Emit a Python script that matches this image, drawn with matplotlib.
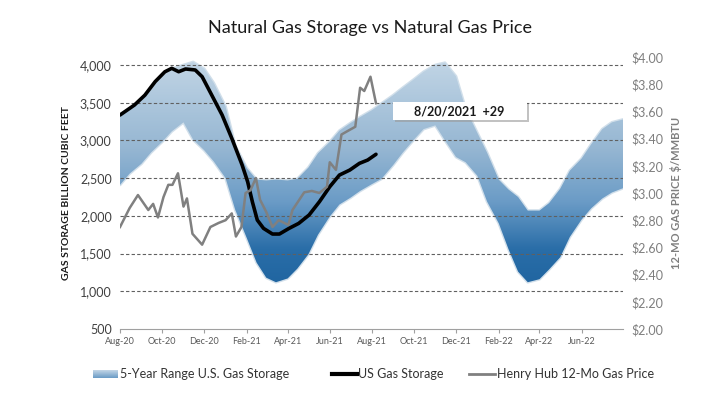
import numpy as np
import pandas as pd
import matplotlib
matplotlib.use("Agg")
import matplotlib.pyplot as plt
import matplotlib.dates as mdates
from matplotlib.colors import LinearSegmentedColormap
from matplotlib.patches import PathPatch, Rectangle
from matplotlib.lines import Line2D

plt.rcParams['font.family'] = ['Lato', 'DejaVu Sans']

# 5-year range of storage (Bcf), semi-monthly from Aug-20 to Aug-22
range_upper = [3330, 3420, 3540, 3700, 3850, 3950, 4000, 4040, 3950, 3760, 3450, 2930,
               2630, 2480, 2470, 2480, 2470, 2490, 2640, 2830, 2980, 3130, 3230, 3310,
               3400, 3490, 3600, 3700, 3810, 3910, 4000, 4030, 3850, 3420, 3100, 2840,
               2480, 2350, 2250, 2070, 2070, 2170, 2360, 2600, 2760, 2950, 3150, 3240, 3280]
range_lower = [2410, 2560, 2690, 2840, 2980, 3120, 3240, 3010, 2870, 2720, 2500, 2080,
               1700, 1380, 1180, 1120, 1170, 1300, 1490, 1750, 1990, 2150, 2240, 2330,
               2420, 2490, 2674, 2840, 3010, 3150, 3200, 3000, 2780, 2710, 2530, 2190,
               1900, 1560, 1260, 1120, 1160, 1290, 1450, 1720, 1950, 2100, 2230, 2310, 2370]
range_dates = pd.date_range("2020-08-01", "2022-08-01", freq="SMS")

# US gas storage (Bcf)
storage_dates = ["2020-08-01", "2020-08-22", "2020-09-06", "2020-09-21", "2020-10-05",
                 "2020-10-15", "2020-10-25", "2020-11-04", "2020-11-18", "2020-11-28",
                 "2020-12-12", "2020-12-27", "2021-01-10", "2021-01-25", "2021-02-02",
                 "2021-02-09", "2021-02-16", "2021-02-25", "2021-03-10", "2021-03-20",
                 "2021-04-03", "2021-04-17", "2021-05-02", "2021-05-17", "2021-06-01",
                 "2021-06-15", "2021-06-30", "2021-07-14", "2021-07-26", "2021-08-07"]
storage = [3337, 3470, 3600, 3780, 3910, 3956, 3911, 3947, 3934, 3845,
           3600, 3337, 3028, 2674, 2452, 2180, 1944, 1834, 1759, 1759,
           1834, 1900, 2011, 2187, 2386, 2541, 2607, 2696, 2740, 2816]

# Henry Hub 12-month strip ($/MMBtu)
price_dates = ["2020-08-01", "2020-08-15", "2020-08-27", "2020-09-11", "2020-09-18",
               "2020-09-25", "2020-10-03", "2020-10-10", "2020-10-16", "2020-10-24",
               "2020-11-01", "2020-11-06", "2020-11-14", "2020-11-28", "2020-12-10",
               "2020-12-22", "2021-01-01", "2021-01-10", "2021-01-16", "2021-01-24",
               "2021-01-30", "2021-02-06", "2021-02-14", "2021-02-20", "2021-03-01",
               "2021-03-10", "2021-03-19", "2021-04-02", "2021-04-08", "2021-04-25",
               "2021-05-06", "2021-05-17", "2021-05-28", "2021-06-01", "2021-06-10",
               "2021-06-18", "2021-06-27", "2021-07-08", "2021-07-15", "2021-07-21",
               "2021-07-30", "2021-08-07"]
price = [2.75, 2.89, 2.985, 2.875, 2.92, 2.82, 2.97, 3.06, 3.06, 3.145,
         2.90, 2.96, 2.70, 2.62, 2.75, 2.78, 2.80, 2.85, 2.68, 2.75,
         3.00, 3.02, 3.11, 2.95, 2.86, 2.75, 2.80, 2.765, 2.875, 3.005,
         3.015, 3.00, 3.046, 3.226, 3.17, 3.43, 3.456, 3.487, 3.774, 3.75,
         3.855, 3.66]

note_text = "8/20/2021  +29"

storage_dates = pd.to_datetime(storage_dates)
price_dates = pd.to_datetime(price_dates)

fig = plt.figure(figsize=(7.11, 3.95), dpi=100)
ax = fig.add_axes([0.1688, 0.1671, 0.7074, 0.6886])
ax2 = ax.twinx()

x0 = mdates.date2num(pd.Timestamp("2020-08-01"))
x1 = mdates.date2num(pd.Timestamp("2022-07-31"))
ylo, yhi = 500, 4106

# gradient-filled range band
band = ax.fill_between(range_dates, range_lower, range_upper, facecolor='none',
                       edgecolor='#b3cadd', linewidth=2.0, alpha=0.6, zorder=1)
cmap = LinearSegmentedColormap.from_list(
    "band", [(0.0, '#1f64a0'), (0.17, '#2a6ea8'), (0.37, '#6a9bc6'),
             (0.6, '#95b6d2'), (1.0, '#c3d6e6')])
grad = np.linspace(0, 1, 256).reshape(-1, 1)
img = ax.imshow(grad, extent=[x0, x1, 1050, 4106], origin='lower', aspect='auto',
                cmap=cmap, zorder=1.5, interpolation='bilinear')
clip = PathPatch(band.get_paths()[0], transform=ax.transData,
                 facecolor='none', edgecolor='none')
ax.add_patch(clip)
img.set_clip_path(clip)

ax.plot(storage_dates, storage, color='black', lw=2.6, zorder=3,
        solid_capstyle='round')
ax2.plot(price_dates, price, color='#808080', lw=1.8, zorder=3)

ax.set_xlim(x0, x1)
ax.set_ylim(ylo, yhi)
ax2.set_ylim(2.0, 4.0)

ax.set_yticks([500, 1000, 1500, 2000, 2500, 3000, 3500, 4000])
ax.set_yticklabels([f"{v:,}" for v in ax.get_yticks()])
ax2.set_yticks(np.arange(2.0, 4.01, 0.2))
ax2.set_yticklabels([f"${v:.2f}" for v in ax2.get_yticks()])

ax.xaxis.set_major_locator(mdates.MonthLocator(bymonth=[2, 4, 6, 8, 10, 12]))
ax.xaxis.set_major_formatter(mdates.DateFormatter('%b-%y'))

for a in (ax, ax2):
    for s in ('top', 'left', 'right'):
        a.spines[s].set_visible(False)
    a.spines['bottom'].set_visible(False)
ax.spines['bottom'].set_visible(True)
ax.spines['bottom'].set_color('#a0a0a0')

ax.tick_params(axis='x', labelsize=6.5, colors='#595959', length=3, color='#a0a0a0', pad=3)
ax.tick_params(axis='y', labelsize=9, labelcolor='#404040', length=0, pad=6)
ax2.tick_params(axis='y', labelsize=9, labelcolor='#7f7f7f', length=0, pad=6)

for v in [1000, 1500, 2000, 2500, 3000, 3500, 4000]:
    ax.axhline(v, color='#606060', lw=0.8, ls=(0, (3, 2)), zorder=2)

ax.set_ylabel("GAS STORAGE BILLION CUBIC FEET", fontsize=7.5, fontweight='bold',
              color='#1a1a1a', labelpad=6)
ax2.set_ylabel("12-MO GAS PRICE $/MMBTU", fontsize=8, fontweight='bold',
               color='#7f7f7f', labelpad=5)

fig.text(0.52, 0.93, "Natural Gas Storage vs Natural Gas Price", ha='center',
         va='center', fontsize=13, color='#1a1a1a')

# annotation box with shadow
ax2.add_patch(Rectangle((0.5467, 0.760), 0.2664, 0.066, transform=ax2.transAxes,
                        facecolor='#9a9a9a', edgecolor='none', alpha=0.6, zorder=5))
ax2.add_patch(Rectangle((0.5427, 0.768), 0.2664, 0.066, transform=ax2.transAxes,
                        facecolor='white', edgecolor='none', zorder=6))
ax2.text(0.675, 0.801, note_text, transform=ax2.transAxes, ha='center', va='center',
         fontsize=9, fontweight='bold', color='#1a1a1a', zorder=7)

# legend
lax = fig.add_axes([93 / 711, 1 - 378 / 395, 25 / 711, 8 / 395])
lax.imshow(np.linspace(0, 1, 50).reshape(-1, 1), cmap=LinearSegmentedColormap.from_list(
    "leg", ['#c3d6e6', '#6a9bc6']), aspect='auto', extent=[0, 1, 0, 1])
lax.axis('off')
fig.text(120 / 711, 1 - 374 / 395, "5-Year Range U.S. Gas Storage", fontsize=9,
         va='center', color='#333333')
fig.add_artist(Line2D([332 / 711, 357 / 711], [1 - 374 / 395] * 2, color='black', lw=3))
fig.text(358 / 711, 1 - 374 / 395, "US Gas Storage", fontsize=9, va='center',
         color='#333333')
fig.add_artist(Line2D([469 / 711, 495 / 711], [1 - 374 / 395] * 2, color='#808080', lw=2))
fig.text(497 / 711, 1 - 374 / 395, "Henry Hub 12-Mo Gas Price", fontsize=9,
         va='center', color='#333333')

fig.savefig("out.png", dpi=100)
